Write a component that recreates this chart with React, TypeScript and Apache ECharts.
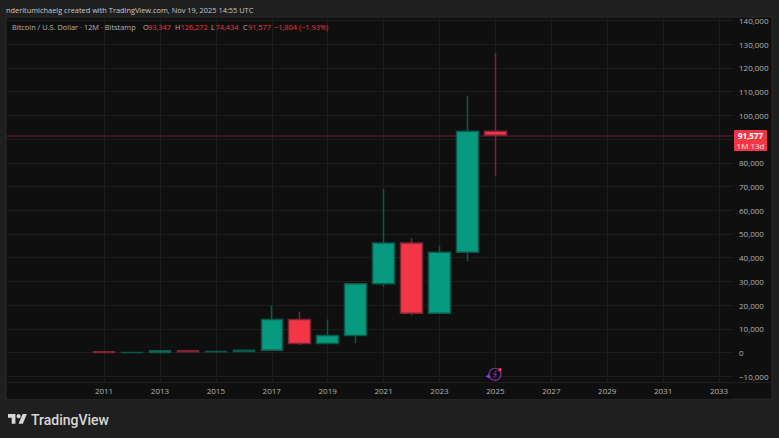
import * as echarts from "echarts";
import { useEffect, useRef } from "react";

// empty years pad the axis on the left so the grid lines up with the 2011 candle
const paddingYears = ["2008", "2009", "2010"];
const candleYears = ["2011", "2012", "2013", "2014", "2015", "2016", "2017", "2018", "2019", "2020", "2021", "2022", "2023", "2024", "2025"];
const futureYears = ["2026", "2027", "2028", "2029", "2030", "2031", "2032", "2033"];
const opens = [300, 5, 13, 730, 320, 430, 960, 13900, 3740, 7190, 28990, 46200, 16530, 42260, 93347];
const closes = [5, 13, 730, 320, 430, 960, 13900, 3740, 7190, 28990, 46200, 16530, 42260, 93347, 91577];
const lows = [2, 4, 13, 280, 150, 360, 750, 3200, 3350, 3850, 27700, 15500, 16300, 38500, 74434];
const highs = [320, 15, 1163, 1170, 500, 980, 19666, 17200, 13880, 29000, 69000, 48200, 45000, 108300, 126272];
const lastPrice = 91577;

const GREEN = "#089981";
const RED = "#f23645";
const GRAY = "#b4b4b4";
const FONT = "'Open Sans', 'DejaVu Sans', sans-serif";

const legendParts = [
	{ x: 12, text: "Bitcoin / U.S. Dollar · 12M · Bitstamp", fill: GRAY },
	{ x: 143, text: "O", fill: GRAY },
	{ x: 148, text: "93,347", fill: RED },
	{ x: 175, text: "H", fill: GRAY },
	{ x: 180.5, text: "126,272", fill: RED },
	{ x: 211, text: "L", fill: GRAY },
	{ x: 215.5, text: "74,434", fill: RED },
	{ x: 243, text: "C", fill: GRAY },
	{ x: 248, text: "91,577", fill: RED },
	{ x: 274, text: "−1,804 (−1.93%)", fill: RED },
];

const logoPath = "M14 22H7V11H0V4h14v18zM28 22h-8l7.5-18h8L28 22z";

export default function App() {
	const chartRef = useRef<HTMLDivElement>(null);

	useEffect(() => {
		if (!chartRef.current) return;
		echarts.graphic.registerShape("tvlogo", echarts.graphic.extendPath(logoPath, {}));

		const chart = echarts.init(chartRef.current, null, { renderer: "svg" });
		const years = [...paddingYears, ...candleYears, ...futureYears];
		const isLabelled = (_: number, v: string) => Number(v) >= 2011 && Number(v) % 2 === 1;
		const candles: (number[] | string)[] = [
			...paddingYears.map(() => "-"),
			...candleYears.map((_, i) => [opens[i], closes[i], lows[i], highs[i]]),
			...futureYears.map(() => "-"),
		];

		chart.setOption({
			animation: false,
			backgroundColor: "#1f1f1f",
			textStyle: { fontFamily: FONT },
			grid: { left: 6.2, right: 46, top: 17, height: 382.9 },
			xAxis: [
				{
					type: "category",
					data: years,
					axisLine: { show: false },
					axisTick: { show: false },
					axisLabel: { show: false },
					splitLine: { show: true, alignWithLabel: true, interval: isLabelled, lineStyle: { color: "#1d1d1d", width: 1 } },
				},
				{
					type: "category",
					data: years,
					position: "bottom",
					offset: -17,
					z: 5,
					axisLine: { show: false },
					axisTick: { show: false },
					splitLine: { show: false },
					axisLabel: { interval: isLabelled, color: GRAY, fontSize: 8, fontFamily: FONT, margin: 3.5 },
				},
			],
			yAxis: {
				type: "value",
				position: "right",
				min: -20000,
				max: 141500,
				interval: 10000,
				axisLine: { show: false },
				axisTick: { show: false },
				splitLine: { showMinLine: false, showMaxLine: false, lineStyle: { color: "#1d1d1d", width: 1 } },
				axisLabel: {
					color: GRAY,
					fontSize: 8,
					fontFamily: FONT,
					margin: 6,
					showMinLabel: false,
					showMaxLabel: false,
					// the last price tag sits over the 90,000 label
					formatter: (v: number) => (Math.abs(v - lastPrice) < 5000 ? "" : (v < 0 ? "−" : "") + Math.abs(v).toLocaleString("en-US")),
				},
			},
			series: [
				{
					type: "candlestick",
					xAxisIndex: 0,
					data: candles,
					barWidth: 22,
					itemStyle: {
						color: GREEN,
						color0: RED,
						borderColor: "#0a5a4b",
						borderColor0: "#7c2634",
						borderWidth: 1.5,
					},
					markLine: {
						silent: true,
						z: 1,
						symbol: "none",
						label: { show: false },
						lineStyle: { color: "#4e1822", type: "solid", width: 1.5 },
						data: [{ yAxis: lastPrice }],
					},
				},
			],
			graphic: [
				{ type: "rect", z: -1, shape: { x: 6, y: 17, width: 766, height: 382 }, style: { fill: "#0f0f0f", stroke: "#2a2a2a", lineWidth: 1 } },
				// hides the vertical grid lines under the time axis
				{ type: "rect", z: 1, shape: { x: 7, y: 383, width: 726, height: 16 }, style: { fill: "#0f0f0f" } },
				{ type: "line", z: 1, shape: { x1: 7, y1: 382.5, x2: 772, y2: 382.5 }, style: { stroke: "#1f1f1f", lineWidth: 1 } },
				{
					type: "text",
					x: 6,
					y: 10,
					style: { text: "nderitumichaelg created with TradingView.com, Nov 19, 2025 14:55 UTC", fill: "#c8c8c8", font: `7.4px ${FONT}`, verticalAlign: "middle" },
				},
				...legendParts.map((p) => ({
					type: "text",
					x: p.x,
					y: 27,
					z: 6,
					style: { text: p.text, fill: p.fill, font: `7.4px ${FONT}`, verticalAlign: "middle" },
				})),
				// last price tag
				{ type: "rect", z: 6, shape: { x: 734, y: 130, width: 33, height: 21, r: 1 }, style: { fill: RED } },
				{ type: "text", z: 7, x: 750.5, y: 135.5, style: { text: "91,577", fill: "#ffffff", font: `bold 8px ${FONT}`, align: "center", verticalAlign: "middle" } },
				{ type: "text", z: 7, x: 750.5, y: 145.5, style: { text: "1M 13d", fill: "#ffe0e3", font: `8px ${FONT}`, align: "center", verticalAlign: "middle" } },
				// event marker
				{ type: "circle", z: 6, shape: { cx: 495, cy: 374.3, r: 6 }, style: { fill: "none", stroke: "#7b2f9e", lineWidth: 1.2 } },
				{ type: "polyline", z: 6, shape: { points: [[496.5, 370.5], [493.5, 374.5], [496.5, 374.5], [493.5, 378]] }, style: { fill: "none", stroke: "#7b2f9e", lineWidth: 1 } },
				{ type: "polygon", z: 6, shape: { points: [[488.3, 373.8], [489.2, 375.4], [490.8, 376.3], [489.2, 377.2], [488.3, 378.8], [487.4, 377.2], [485.8, 376.3], [487.4, 375.4]] }, style: { fill: "#6a4df0" } },
				{ type: "circle", z: 7, shape: { cx: 500, cy: 369.7, r: 1.7 }, style: { fill: RED } },
				// TradingView logo
				{ type: "tvlogo", z: 6, x: 8, y: 412, scaleX: 0.53, scaleY: 0.53, style: { fill: "#d8d8d8" } },
				{ type: "circle", z: 6, shape: { cx: 18.6, cy: 416.2, r: 2.1 }, style: { fill: "#d8d8d8" } },
				{ type: "text", z: 6, x: 31, y: 419.5, style: { text: "TradingView", fill: "#d8d8d8", font: `500 14px Roboto, ${FONT}`, verticalAlign: "middle" } },
			],
		});

		return () => chart.dispose();
	}, []);

	return <div ref={chartRef} style={{ position: "fixed", left: 0, top: 0, width: 779, height: 438 }} />;
}
